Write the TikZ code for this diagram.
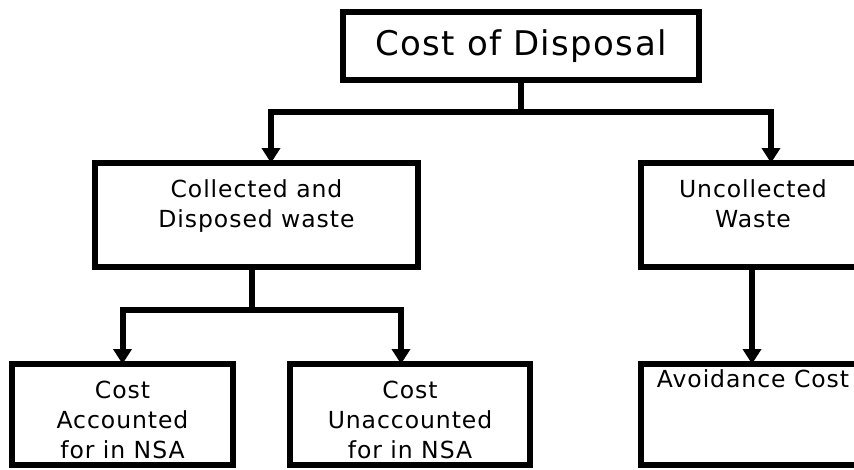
\documentclass[tikz,border=0pt]{standalone}
\usepackage{fontspec}
\setmainfont[LetterSpace=4]{DejaVu Sans}
\usetikzlibrary{arrows.meta}
\begin{document}
\begin{tikzpicture}[x=1pt,y=-1pt,
  box/.style={draw,line width=6pt,outer sep=0pt,inner sep=0pt,rectangle},
  link/.style={line width=6pt},
  arrow/.style={link,-{Triangle[width=18pt,length=15pt]}},
  titletext/.style={font=\fontsize{34}{42}\selectfont},
  txt/.style={font=\fontsize{23.5}{30}\selectfont,align=center,anchor=base,inner sep=0pt}]

% page frame; boxes on the right run past the edge
\clip (0,0) rectangle (854,469);
\fill[white] (0,0) rectangle (854,469);

% boxes
\node[box,titletext,minimum width=356pt,minimum height=68pt] (top) at (521,46) {Cost of Disposal};
\node[box,minimum width=323pt,minimum height=104pt] (col) at (256.5,215) {};
\node[box,minimum width=224pt,minimum height=104pt] (unc) at (753,215) {};
\node[box,minimum width=221pt,minimum height=101pt] (ca) at (122.5,414.5) {};
\node[box,minimum width=240pt,minimum height=101pt] (cu) at (410,414.5) {};
\node[box,minimum width=224pt,minimum height=101pt] (av) at (753,414.5) {};

% box texts (base anchor sits on the last line)
\node[txt] (coltxt) at (256.5,227) {Collected and\\Disposed waste};
\node[txt] (unctxt) at (753,227) {Uncollected\\Waste};
\node[txt] (catxt) at (122.5,458) {Cost\\Accounted\\for in NSA};
\node[txt] (cutxt) at (410,458) {Cost\\Unaccounted\\for in NSA};
\node[txt] (avtxt) at (753,387) {Avoidance Cost};

% connectors
\path (top.south) ++(0,32) coordinate (j1);
\draw[link] (top.south) -- (j1);
\draw[arrow] (j1) -| ([xshift=14.5pt]col.north);
\draw[arrow] (j1) -| ([xshift=18pt]unc.north);

\path ([xshift=-4.5pt]col.south) ++(0,43) coordinate (j2);
\draw[link] ([xshift=-4.5pt]col.south) -- (j2);
\draw[arrow] (j2) -| (ca.north);
\draw[arrow] (j2) -| ([xshift=-9pt]cu.north);

\draw[arrow] ([xshift=-1pt]unc.south) -- ([xshift=-1pt]av.north);
\end{tikzpicture}
\end{document}
